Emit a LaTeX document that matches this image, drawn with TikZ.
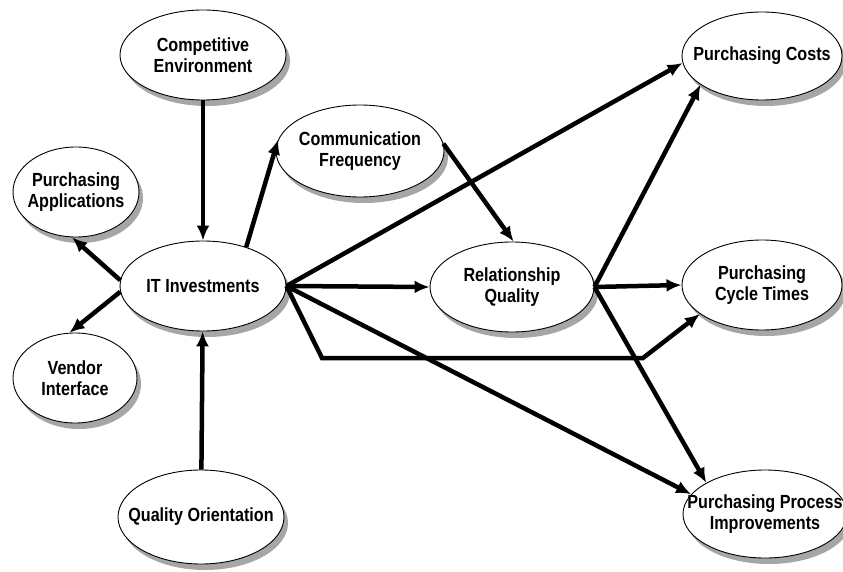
\documentclass[tikz,border=0pt]{standalone}
\usepackage{fontspec}
\setmainfont{Liberation Sans}[FakeStretch=0.85]
\usepackage{tikz}
\usetikzlibrary{arrows.meta,shapes.geometric,shadows}

\begin{document}
\begin{tikzpicture}[
    x=1pt, y=-1pt,
    var/.style={ellipse, draw, line width=0.9pt, fill=white, minimum width=166pt, minimum height=90pt, inner sep=-30pt, align=center, font=\fontsize{19}{21}\selectfont\bfseries, drop shadow={shadow xshift=4pt, shadow yshift=-6pt, fill=black!35, opacity=1}},
    arr/.style={-{Latex[length=15pt,width=13pt]}, line width=4.5pt}
]
\useasboundingbox (0,0) rectangle (843,572);

\node[var] (comp) at (203,55) {Competitive\\Environment};
\node[var, minimum width=168pt, minimum height=92pt] (comm) at (360,151) {Communication\\Frequency};
\node[var, minimum width=126pt] (papp) at (76,192) {Purchasing\\Applications};
\node[var] (it) at (203,286) {IT Investments};
\node[var, minimum width=124pt] (vend) at (75,378) {Vendor\\Interface};
\node[var, minimum height=94pt] (qual) at (201,517) {Quality Orientation};
\node[var, minimum width=164pt] (rel) at (512,287) {Relationship\\Quality};

\node[var, minimum width=160pt, minimum height=88pt] (pcost) at (762,56) {Purchasing Costs};
\node[var, minimum width=160pt] (cyc) at (762,285) {Purchasing\\Cycle Times};
\node[var, minimum width=164pt, minimum height=88pt] (ppi) at (765,514) {Purchasing Process\\Improvements};

\coordinate (bendA) at (322,358);
\coordinate (bendB) at (643,358);

\draw[arr] (comp) -- (it);
\draw[arr] (qual) -- (it);
\draw[arr] (it.176) -- (papp.265);
\draw[arr] (it.184) -- (vend.97);
\draw[arr] (it.42) -- (comm.172);
\draw[arr] (comm.5) -- (rel.88);
\draw[arr] (it.east) -- (pcost.185);
\draw[arr] (it.east) -- (rel.west);
\draw[arr] (it.east) -- (ppi.165);
\draw[arr] (it.east) -- (bendA) -- (bendB) -- (cyc.205);
\draw[arr] (rel.east) -- (pcost.205);
\draw[arr] (rel.east) -- (cyc.west);
\draw[arr] (rel.east) -- (ppi.152);
\end{tikzpicture}
\end{document}
